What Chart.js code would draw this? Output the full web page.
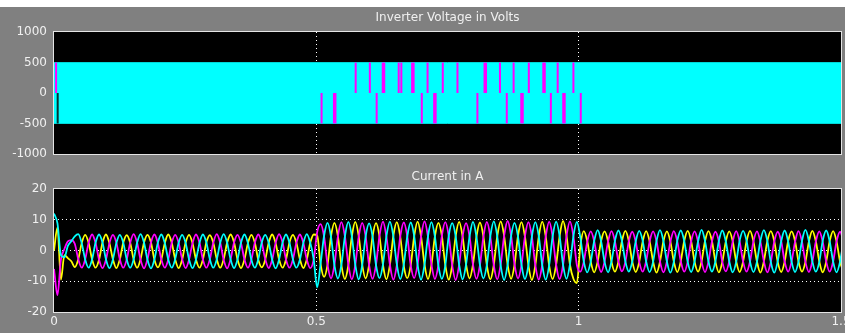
<!DOCTYPE html>
<html>
<head>
<meta charset="utf-8">
<script src="https://cdn.jsdelivr.net/npm/chart.js@4.4.1/dist/chart.umd.min.js"></script>
<style>
html,body{margin:0;padding:0;background:#808080;width:845px;height:333px;overflow:hidden;position:relative}
#wrapTop{position:absolute;left:0;top:0;width:845px;height:165px}
#wrapBot{position:absolute;left:0;top:165px;width:845px;height:168px}
#strip{position:absolute;left:0;top:0;width:845px;height:7px;background:#ffffff}
canvas{display:block}
</style>
</head>
<body>
<div id="wrapTop"><canvas id="topChart" width="845" height="165"></canvas></div>
<div id="wrapBot"><canvas id="botChart" width="845" height="168"></canvas></div>
<div id="strip"></div>
<script>
// ---------- data ----------
const voltageTitle = 'Inverter Voltage in Volts';
const currentTitle = 'Current in A';
const xTickValues = [0, 0.5, 1, 1.5];
const xTickLabels = ['0', '0.5', '1', '1.5'];
const voltageTicks = [-1000, -500, 0, 500, 1000];
const currentTicks = [-20, -10, 0, 10, 20];

// inverter voltage: PWM band between the two levels, over the whole run
const bandTimes = [0, 1.5];
const voltageLevels = [500, -500];
// magenta notches (time in s), upper half 500 -> 0, lower half 0 -> -500
const upperNotchSpan = [500, 0];
const lowerNotchSpan = [0, -500];
const upperNotchTimes = [0.004, 0.575, 0.602, 0.657, 0.662, 0.712, 0.741, 0.769, 0.850, 0.876, 0.905, 0.960, 0.990];
const upperThickNotchTimes = [0.628, 0.684, 0.822, 0.934];
const lowerNotchTimes = [0.510, 0.615, 0.701, 0.807, 0.863, 0.947, 1.004];
const lowerThickNotchTimes = [0.535, 0.726, 0.892, 0.972];
const darkNotchTimes = [0.007];

// three-phase currents, sampled every 6.6 ms (A)
const sampleInterval = 0.0066;
const currentCyan = [
  12.0, 8.8, -1.5, -2.2, 1.5, 3.0,
  4.6, 5.3, 2.4, -2.9, -5.6, -2.9,
  2.5, 5.2, 2.6, -2.8, -5.7, -3.0,
  2.4, 5.1, 2.5, -2.9, -5.6, -2.9,
  2.5, 5.3, 2.5, -3.0, -5.8, -2.9,
  2.6, 5.2, 2.4, -2.9, -5.6, -2.8,
  2.5, 5.1, 2.5, -2.9, -5.7, -3.0,
  2.4, 5.2, 2.6, -2.8, -5.6, -2.9,
  2.5, 5.3, 2.5, -2.9, -5.7, -2.9,
  2.5, 5.2, 2.4, -3.0, -5.6, -2.8,
  2.6, 5.1, 2.5, -2.9, -5.8, -2.9,
  2.5, 5.2, 2.5, -2.9, -5.6, -3.0,
  2.4, 5.3, 2.5, -2.9, -12.0, -4.2,
  4.8, 9.0, 4.4, -4.9, -9.1, -4.6,
  4.5, 9.3, 4.7, -4.6, -9.4, -4.8,
  4.6, 8.8, 4.5, -4.8, -9.0, -4.5,
  4.7, 9.4, 4.6, -4.5, -9.3, -4.7,
  4.4, 9.1, 4.8, -4.7, -9.5, -4.6,
  4.6, 9.2, 4.5, -4.8, -9.2, -4.9,
  4.8, 8.9, 4.6, -4.6, -9.4, -4.5,
  4.5, 9.3, 4.4, -4.7, -9.1, -4.7,
  4.6, 9.5, 4.7, -4.9, -9.6, -4.6,
  4.7, 9.0, 4.5, -4.6, -9.3, -4.8,
  4.5, 9.2, 4.6, -4.8, -9.5, -4.7,
  4.6, 9.4, 4.8, -4.6, -9.2, -4.5,
  4.7, 9.3, 4.2, -3.6, -7.1, -3.6,
  3.1, 6.6, 3.0, -3.7, -7.1, -3.5,
  3.2, 6.5, 3.1, -3.6, -6.9, -3.6,
  3.0, 6.4, 3.2, -3.5, -7.0, -3.7,
  3.1, 6.6, 3.0, -3.6, -7.2, -3.6,
  3.2, 6.5, 3.1, -3.7, -7.0, -3.5,
  3.0, 6.7, 3.1, -3.6, -6.9, -3.6,
  3.1, 6.5, 3.0, -3.5, -7.1, -3.7,
  3.2, 6.4, 3.2, -3.6, -7.0, -3.6,
  3.1, 6.6, 3.1, -3.7, -7.2, -3.5,
  3.0, 6.5, 3.0, -3.6, -7.0, -3.6,
  3.1, 6.7, 3.1, -3.5, -6.9, -3.7,
  3.2, 6.5, 3.0, -3.6, -7.1, -3.6,
  3.1
];
const currentYellow = [
  0.0, 7.5, -9.5, -1.5, -2.5, -3.5,
  -5.4, -2.9, 2.4, 5.1, 2.5, -2.9,
  -5.6, -3.0, 2.5, 5.2, 2.4, -2.8,
  -5.7, -2.9, 2.5, 5.0, 2.5, -2.9,
  -5.6, -2.8, 2.6, 5.1, 2.6, -3.0,
  -5.5, -2.9, 2.4, 5.2, 2.5, -2.9,
  -5.7, -3.0, 2.5, 5.1, 2.4, -2.9,
  -5.6, -2.9, 2.6, 5.0, 2.5, -2.8,
  -5.6, -2.8, 2.5, 5.2, 2.6, -2.9,
  -5.7, -2.9, 2.4, 5.1, 2.5, -3.0,
  -5.5, -3.0, 2.5, 5.2, 2.4, -2.9,
  -5.6, -2.9, 2.6, 5.1, 2.5, -2.8,
  -5.7, -2.9, 2.5, 5.2, 4.9, -4.5,
  -8.6, -4.6, 4.7, 9.0, 4.5, -4.8,
  -9.3, -4.8, 4.5, 9.3, 4.7, -4.6,
  -9.1, -4.6, 4.6, 8.9, 4.6, -4.7,
  -9.4, -4.7, 4.8, 9.2, 4.4, -4.9,
  -9.0, -4.9, 4.5, 9.4, 4.6, -4.6,
  -9.3, -4.6, 4.6, 9.0, 4.8, -4.7,
  -9.5, -4.8, 4.7, 9.3, 4.5, -4.5,
  -9.1, -4.5, 4.5, 9.1, 4.6, -4.8,
  -9.4, -4.7, 4.6, 9.5, 4.7, -4.6,
  -9.2, -4.6, 4.8, 9.2, 4.5, -4.7,
  -9.6, -4.8, 4.6, 9.4, 4.6, -4.9,
  -9.3, -4.7, 4.5, 9.6, 4.8, -4.6,
  -9.2, -10.6, 1.5, 6.3, 3.0, -3.6,
  -7.1, -3.6, 3.1, 6.2, 3.0, -3.7,
  -6.9, -3.5, 3.0, 6.4, 3.1, -3.6,
  -7.0, -3.7, 2.9, 6.3, 3.0, -3.5,
  -7.2, -3.6, 3.0, 6.2, 2.9, -3.6,
  -7.0, -3.5, 3.1, 6.4, 3.0, -3.7,
  -6.9, -3.6, 3.0, 6.3, 3.1, -3.6,
  -7.1, -3.7, 2.9, 6.2, 3.0, -3.5,
  -7.0, -3.6, 3.0, 6.4, 2.9, -3.6,
  -7.2, -3.5, 3.1, 6.3, 3.0, -3.7,
  -7.0, -3.6, 3.0, 6.2, 3.1, -3.6,
  -6.9, -3.7, 2.9, 6.4, 3.0, -3.5,
  -7.1, -3.6, 3.0, 6.3, 2.9, -3.6,
  -7.0
];
const currentMagenta = [
  -6.0, -14.5, -3.0, 0.5, 3.0, 3.4,
  2.2, -2.8, -5.6, -2.9, 2.5, 5.2,
  2.5, -2.9, -5.7, -3.0, 2.4, 5.1,
  2.6, -2.8, -5.6, -2.9, 2.5, 5.3,
  2.5, -3.0, -5.8, -2.8, 2.6, 5.2,
  2.4, -2.9, -5.6, -2.9, 2.5, 5.1,
  2.5, -2.8, -5.7, -3.0, 2.4, 5.2,
  2.6, -2.9, -5.6, -2.9, 2.5, 5.3,
  2.5, -3.0, -5.8, -2.8, 2.6, 5.1,
  2.4, -2.9, -5.6, -2.9, 2.5, 5.2,
  2.5, -2.8, -5.7, -3.0, 2.4, 5.3,
  2.6, -2.9, -5.6, -2.9, 2.5, 5.2,
  2.5, -2.9, -5.7, -2.9, 6.0, 8.6,
  4.5, -4.7, -9.1, -4.5, 4.7, 9.2,
  4.7, -4.5, -9.4, -4.7, 4.5, 9.0,
  4.6, -4.8, -9.2, -4.6, 4.8, 9.4,
  4.4, -4.6, -9.5, -4.8, 4.6, 9.1,
  4.8, -4.7, -9.0, -4.5, 4.5, 9.5,
  4.5, -4.5, -9.3, -4.7, 4.7, 9.2,
  4.7, -4.8, -9.6, -4.6, 4.6, 8.9,
  4.6, -4.6, -9.2, -4.8, 4.4, 9.3,
  4.5, -4.7, -9.4, -4.5, 4.8, 9.6,
  4.8, -4.5, -9.1, -4.7, 4.6, 9.2,
  4.6, -4.8, -9.5, -4.6, 4.5, 9.4,
  4.5, -4.6, -9.3, -4.8, 4.7, 9.5,
  4.6, -4.7, -6.9, -3.6, 2.9, 6.2,
  3.0, -3.5, -7.0, -3.6, 2.9, 6.3,
  2.9, -3.6, -6.8, -3.7, 3.0, 6.1,
  2.8, -3.7, -6.9, -3.5, 2.9, 6.2,
  3.0, -3.6, -7.1, -3.6, 2.8, 6.3,
  2.9, -3.5, -6.9, -3.7, 3.0, 6.2,
  2.8, -3.6, -7.0, -3.6, 2.9, 6.1,
  3.0, -3.7, -6.8, -3.5, 2.9, 6.3,
  2.9, -3.6, -6.9, -3.6, 3.0, 6.2,
  2.8, -3.5, -7.1, -3.7, 2.9, 6.1,
  3.0, -3.6, -6.9, -3.6, 2.8, 6.3,
  2.9, -3.7, -7.0, -3.5, 2.9, 6.2,
  2.8, -3.6, -6.9, -3.6, 3.0, 6.1,
  2.9
];

// ---------- drawing ----------
const sampleTimes = currentCyan.map((_, i) => +(i * sampleInterval).toFixed(4));
const TEXT = '#f0f0f0';
const FONT = { family: 'DejaVu Sans', size: 12, weight: 'normal', lineHeight: 1 };

const innerGrid = (c) => {
  const n = c.scale.ticks.length;
  return (c.index === 0 || c.index === n - 1) ? 'rgba(0,0,0,0)' : '#ffffff';
};

const plotFrame = {
  id: 'plotFrame',
  beforeDraw(chart) {
    const { ctx, chartArea: a } = chart;
    ctx.save();
    ctx.fillStyle = '#000000';
    ctx.fillRect(a.left, a.top, a.right - a.left, a.bottom - a.top);
    ctx.restore();
  },
  afterDraw(chart) {
    const { ctx, chartArea: a } = chart;
    ctx.save();
    ctx.strokeStyle = '#e4e4e4';
    ctx.lineWidth = 1;
    ctx.strokeRect(Math.round(a.left) - 0.5, Math.round(a.top) - 0.5,
      Math.round(a.right - a.left) + 1, Math.round(a.bottom - a.top) + 1);
    ctx.restore();
  }
};

function xScale(showLabels) {
  return {
    type: 'linear', min: xTickValues[0], max: xTickValues[xTickValues.length - 1],
    afterBuildTicks: (s) => { s.ticks = xTickValues.map(v => ({ value: v })); },
    ticks: {
      display: showLabels, color: TEXT, font: FONT, padding: 4, maxRotation: 0, autoSkip: false,
      callback: (v) => xTickLabels[xTickValues.indexOf(v)]
    },
    grid: { color: innerGrid, drawTicks: false, lineWidth: 1 },
    border: { display: false, dash: [1, 3] },
    afterFit: (s) => { s.height = showLabels ? 21 : 0; s.paddingLeft = 0; s.paddingRight = 0; }
  };
}
function yScale(ticks) {
  return {
    type: 'linear', min: ticks[0], max: ticks[ticks.length - 1],
    afterBuildTicks: (s) => { s.ticks = ticks.map(v => ({ value: v })); },
    ticks: { color: TEXT, font: FONT, padding: 7, autoSkip: false, callback: (v) => String(v) },
    grid: { color: innerGrid, drawTicks: false, lineWidth: 1 },
    border: { display: false, dash: [1, 3] },
    afterFit: (s) => { s.width = 54; s.paddingTop = 0; s.paddingBottom = 0; }
  };
}
function titleOpt(text, top, bottom) {
  return { display: true, text, color: TEXT, font: FONT, fullSize: false, padding: { top, bottom } };
}

function notchPoints(times, span) {
  const pts = [];
  times.forEach(t => { pts.push({ x: t, y: span[0] }, { x: t, y: span[1] }, { x: t, y: null }); });
  return pts;
}

new Chart(document.getElementById('topChart'), {
  type: 'line',
  data: {
    datasets: [
      { data: notchPoints(upperNotchTimes, upperNotchSpan), borderColor: '#ff00ff', borderWidth: 2, order: 1 },
      { data: notchPoints(upperThickNotchTimes, upperNotchSpan), borderColor: '#ff00ff', borderWidth: 3.5, order: 1 },
      { data: notchPoints(lowerNotchTimes, lowerNotchSpan), borderColor: '#ff00ff', borderWidth: 2, order: 1 },
      { data: notchPoints(lowerThickNotchTimes, lowerNotchSpan), borderColor: '#ff00ff', borderWidth: 3.5, order: 1 },
      { data: notchPoints(darkNotchTimes, lowerNotchSpan), borderColor: '#003030', borderWidth: 2, order: 1 },
      { data: bandTimes.map(t => ({ x: t, y: voltageLevels[0] })), fill: { value: voltageLevels[1] },
        backgroundColor: '#00ffff', borderColor: '#00d8d8', borderWidth: 1, order: 10 },
      { data: bandTimes.map(t => ({ x: t, y: voltageLevels[1] })), borderColor: '#00d8d8', borderWidth: 1, order: 9 }
    ]
  },
  options: {
    responsive: false, animation: false, devicePixelRatio: 1,
    layout: { autoPadding: false, padding: { left: 0, right: 4, top: 0, bottom: 11 } },
    elements: { point: { radius: 0 }, line: { borderCapStyle: 'butt' } },
    plugins: { legend: { display: false }, tooltip: { enabled: false }, title: titleOpt(voltageTitle, 12, 8) },
    scales: { x: xScale(false), y: yScale(voltageTicks) }
  },
  plugins: [plotFrame]
});

new Chart(document.getElementById('botChart'), {
  type: 'line',
  data: {
    labels: sampleTimes,
    datasets: [
      { data: currentCyan, borderColor: '#00ffff', order: 1 },
      { data: currentMagenta, borderColor: '#ff00ff', order: 2 },
      { data: currentYellow, borderColor: '#ffff00', order: 3 }
    ]
  },
  options: {
    responsive: false, animation: false, devicePixelRatio: 1,
    layout: { autoPadding: false, padding: { left: 0, right: 4, top: 0, bottom: 0 } },
    elements: { point: { radius: 0 }, line: { borderWidth: 1.8, cubicInterpolationMode: 'monotone' } },
    plugins: { legend: { display: false }, tooltip: { enabled: false }, title: titleOpt(currentTitle, 6, 6) },
    scales: { x: xScale(true), y: yScale(currentTicks) }
  },
  plugins: [plotFrame]
});
</script>
</body>
</html>
